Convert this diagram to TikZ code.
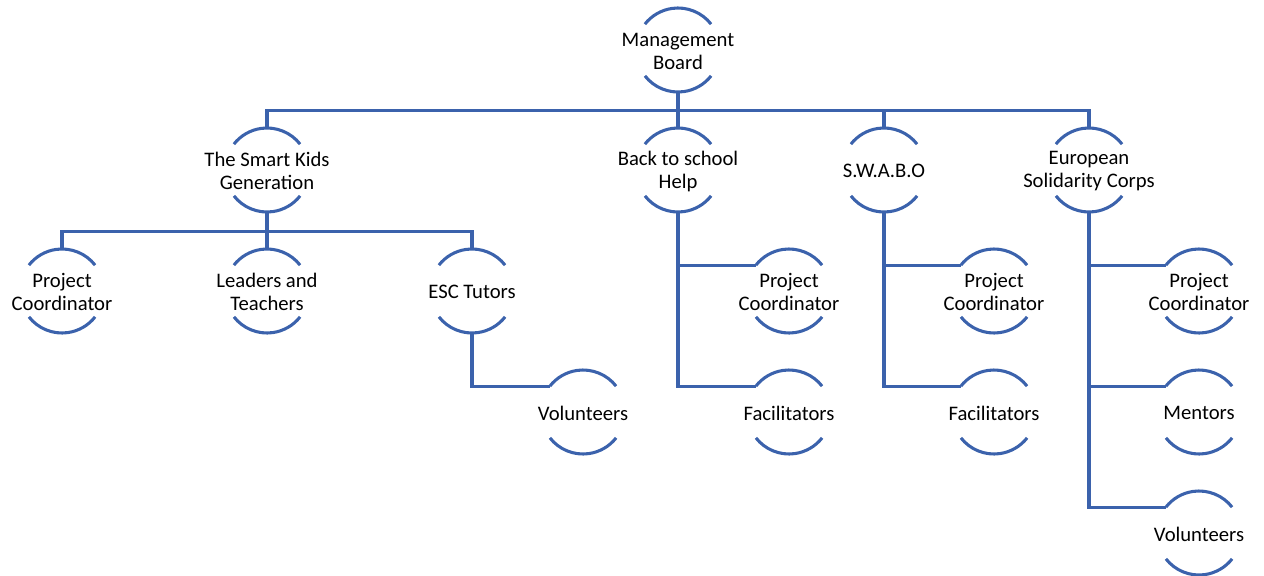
\documentclass[tikz,border=0pt]{standalone}
\usepackage{fontspec}
\setmainfont{Carlito}
\definecolor{lc}{HTML}{3B62AC}
\begin{document}
\begin{tikzpicture}[x=0.75pt,y=-0.75pt,
  ring/.style={circle,minimum size=63pt,inner sep=0pt,outer sep=0pt},
  txt/.style={align=center,font=\fontsize{15.5pt}{17.25pt}\selectfont,text=black,inner sep=0pt},
  ln/.style={draw=lc,line width=2.3pt},
  cn/.style={draw=lc,line width=2.3pt,line join=miter}]
\path[use as bounding box] (0,0) rectangle (1264,575);
\newcommand{\mynode}[4]{%
  \node[ring] (#1) at (#2,#3) {};
  \node[txt] (#1t) at ([yshift=-1pt]#1.center) {#4};
  \draw[ln] (#1.38) arc[start angle=38,end angle=142,radius=31.5pt];
  \draw[ln] (#1.218) arc[start angle=218,end angle=322,radius=31.5pt];
}
\mynode{mb}{678}{50}{Management\\Board}
\mynode{tsk}{267}{170}{The Smart Kids\\Generation}
\mynode{bts}{678}{170}{Back to school\\Help}
\mynode{sw}{884}{170}{S.W.A.B.O}
\mynode{esc}{1089}{170}{European\\Solidarity Corps}
\mynode{pc1}{62}{291}{Project\\Coordinator}
\mynode{lt}{267}{291}{Leaders and\\Teachers}
\mynode{et}{472}{291}{ESC Tutors}
\mynode{vo1}{583}{412}{Volunteers}
\mynode{pc2}{789}{291}{Project\\Coordinator}
\mynode{fa2}{789}{412}{Facilitators}
\mynode{pc3}{994}{291}{Project\\Coordinator}
\mynode{fa3}{994}{412}{Facilitators}
\mynode{pc4}{1199}{291}{Project\\Coordinator}
\mynode{me4}{1199}{412}{Mentors}
\mynode{vo4}{1199}{533}{Volunteers}
\coordinate (bus1) at (0,110.5);
\coordinate (bus2) at (0,231.5);
% level 1
\draw[cn] (mb.south) -- (mb.south |- bus1);
\draw[cn] (tsk.north) -- (tsk.north |- bus1) -- (esc.north |- bus1) -- (esc.north);
\draw[cn] (bts.north) -- (bts.north |- bus1);
\draw[cn] (sw.north) -- (sw.north |- bus1);
% TSK children
\draw[cn] (tsk.south) -- (tsk.south |- bus2);
\draw[cn] (pc1.north) -- (pc1.north |- bus2) -- (et.north |- bus2) -- (et.north);
\draw[cn] (lt.north) -- (lt.north |- bus2);
\draw[cn] (et.south) |- (vo1.142);
% BTS
\draw[cn] (bts.south) |- (fa2.142);
\draw[cn] (bts.south |- pc2.142) -- (pc2.142);
% SWABO
\draw[cn] (sw.south) |- (fa3.142);
\draw[cn] (sw.south |- pc3.142) -- (pc3.142);
% ESC
\draw[cn] (esc.south) |- (vo4.142);
\draw[cn] (esc.south |- pc4.142) -- (pc4.142);
\draw[cn] (esc.south |- me4.142) -- (me4.142);
\end{tikzpicture}
\end{document}
